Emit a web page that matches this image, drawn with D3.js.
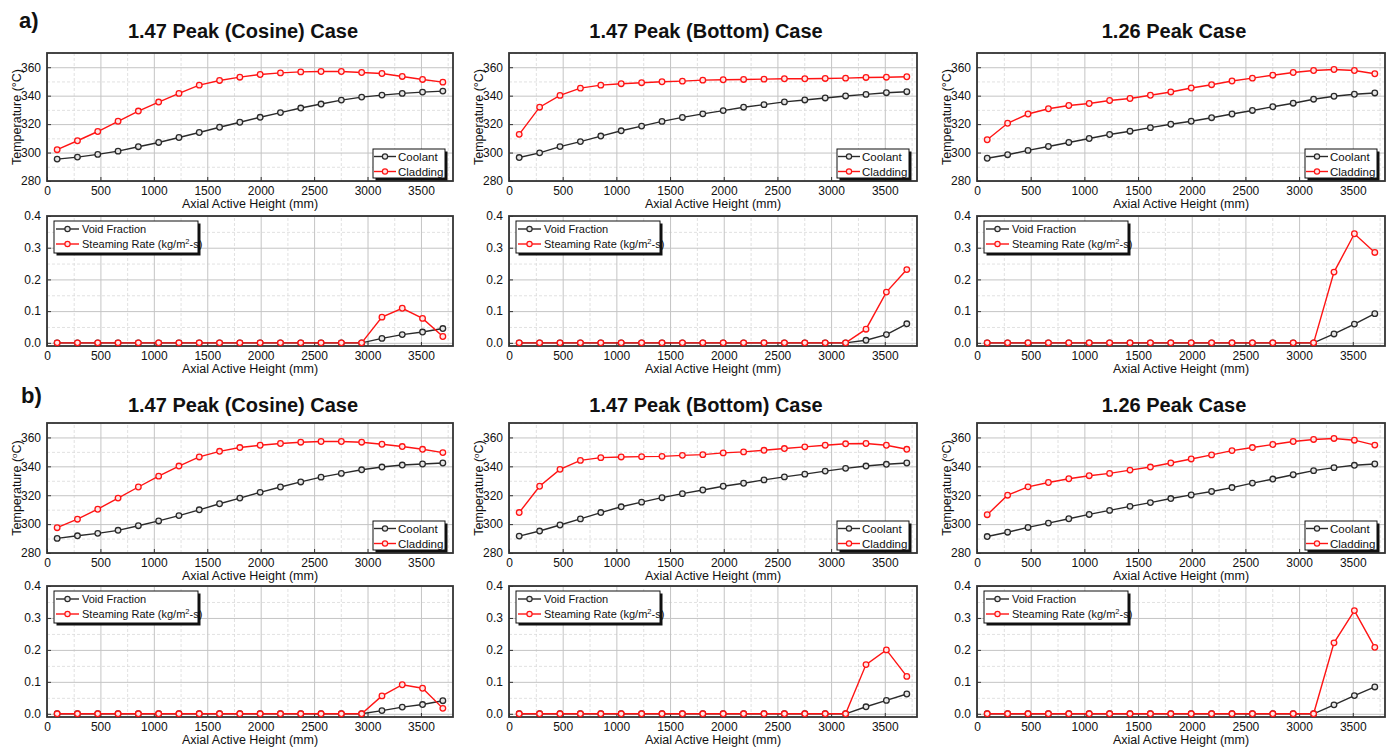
<!DOCTYPE html>
<html><head><meta charset="utf-8">
<script src="https://cdn.jsdelivr.net/npm/d3@7"></script>
<style>body{margin:0;background:#fff}svg{display:block}text{font-family:"Liberation Sans",Arial,Helvetica,sans-serif}</style>
</head><body><svg id="c" width="1396" height="751"></svg>
<script>
// ---------------- DATA ----------------
const heights = [95,285,475,665,855,1045,1235,1425,1615,1805,1995,2185,2375,2565,2755,2945,3135,3325,3515,3705];
const xTicks = [0,500,1000,1500,2000,2500,3000,3500];
const tempTicks = [280,300,320,340,360];
const voidTicks = [0.0,0.1,0.2,0.3,0.4];
const caseTitles = ["1.47 Peak (Cosine) Case","1.47 Peak (Bottom) Case","1.26 Peak Case"];
const rowLabels = ["a)","b)"];

// a) Cosine
const aCosCoolant  = [295.4,296.8,298.7,301.0,304.1,307.1,310.6,314.1,317.8,321.3,324.8,328.1,331.3,334.1,336.9,339.0,340.4,341.6,342.5,343.2];
const aCosCladding = [302.0,308.3,314.8,322.0,329.2,335.5,341.6,347.4,350.7,353.0,354.9,356.0,356.7,357.0,357.0,356.3,355.6,353.5,351.4,349.5];
const aCosVoid     = [0,0,0,0,0,0,0,0,0,0,0,0,0,0,0,0,0.014,0.026,0.034,0.045];
const aCosSteam    = [0,0,0,0,0,0,0,0,0,0,0,0,0,0,0,0,0.081,0.109,0.077,0.020];
// a) Bottom
const aBotCoolant  = [296.5,299.8,304.2,307.7,311.6,315.3,318.6,321.9,324.7,327.2,329.5,331.9,333.7,335.6,337.0,338.4,339.8,340.9,342.1,342.8];
const aBotCladding = [312.8,331.9,340.2,345.3,347.4,348.4,349.1,349.8,350.2,350.9,351.2,351.4,351.6,351.9,351.9,352.1,352.3,352.8,353.0,353.3];
const aBotVoid     = [0,0,0,0,0,0,0,0,0,0,0,0,0,0,0,0,0,0.008,0.026,0.060];
const aBotSteam    = [0,0,0,0,0,0,0,0,0,0,0,0,0,0,0,0,0,0.043,0.160,0.231];
// a) 1.26
const a126Coolant  = [296.0,298.5,301.5,304.3,307.1,309.9,312.7,315.0,317.5,319.9,322.0,324.5,327.1,329.6,332.2,334.7,337.5,339.6,341.0,341.9];
const a126Cladding = [309.0,320.6,327.1,330.8,333.1,334.5,336.6,338.0,340.3,342.6,345.4,347.7,350.3,352.3,354.4,356.3,357.7,358.4,357.7,355.4];
const a126Void     = [0,0,0,0,0,0,0,0,0,0,0,0,0,0,0,0,0,0.028,0.059,0.092];
const a126Steam    = [0,0,0,0,0,0,0,0,0,0,0,0,0,0,0,0,0,0.223,0.344,0.285];
// b) Cosine
const bCosCoolant  = [290.1,291.9,293.6,295.7,298.9,302.2,305.9,309.9,314.1,318.0,322.0,325.7,329.2,332.5,335.1,337.6,339.5,340.9,341.6,342.3];
const bCosCladding = [297.5,303.4,310.3,318.0,325.7,333.2,340.2,346.5,350.4,353.0,354.6,355.8,356.7,357.2,357.2,356.7,355.3,353.7,351.8,349.5];
const bCosVoid     = [0,0,0,0,0,0,0,0,0,0,0,0,0,0,0,0,0.010,0.021,0.029,0.041];
const bCosSteam    = [0,0,0,0,0,0,0,0,0,0,0,0,0,0,0,0,0.056,0.091,0.080,0.017];
// b) Bottom
const bBotCoolant  = [291.7,295.2,299.4,303.6,308.0,312.0,315.2,318.3,321.1,323.6,326.2,328.3,330.6,332.7,334.6,336.7,338.6,340.2,341.4,342.3];
const bBotCladding = [308.0,326.2,337.9,344.1,346.0,346.5,346.7,346.9,347.6,348.1,349.3,350.0,351.1,352.3,353.5,354.6,355.6,355.8,354.6,351.8];
const bBotVoid     = [0,0,0,0,0,0,0,0,0,0,0,0,0,0,0,0,0,0.022,0.042,0.062];
const bBotSteam    = [0,0,0,0,0,0,0,0,0,0,0,0,0,0,0,0,0,0.154,0.200,0.117];
// b) 1.26
const b126Coolant  = [291.4,294.4,297.7,300.7,303.7,306.7,309.5,312.3,314.9,317.7,320.2,322.6,325.3,328.4,331.2,334.2,337.0,339.1,340.7,341.6];
const b126Cladding = [306.5,320.0,325.8,328.8,331.4,333.5,335.1,337.4,339.5,342.3,345.1,347.9,350.9,353.0,355.1,357.2,358.6,359.3,358.1,354.7];
const b126Void     = [0,0,0,0,0,0,0,0,0,0,0,0,0,0,0,0,0,0.028,0.057,0.084];
const b126Steam    = [0,0,0,0,0,0,0,0,0,0,0,0,0,0,0,0,0,0.222,0.323,0.208];

// ---------------- LAYOUT ----------------
const RED = "#ff1414", BLK = "#2a2a2a";
const cols = [{l:47,r:453},{l:509,r:917},{l:977,r:1385}];
const rows = [
  {temp:{t:53,b:181}, vd:{t:216,b:346}, titleY:38, labelY:28, labelX:19},
  {temp:{t:423,b:553}, vd:{t:586,b:717}, titleY:412, labelY:403, labelX:21}
];
const cases = [
  [[aCosCoolant,aCosCladding,aCosVoid,aCosSteam],[aBotCoolant,aBotCladding,aBotVoid,aBotSteam],[a126Coolant,a126Cladding,a126Void,a126Steam]],
  [[bCosCoolant,bCosCladding,bCosVoid,bCosSteam],[bBotCoolant,bBotCladding,bBotVoid,bBotSteam],[b126Coolant,b126Cladding,b126Void,b126Steam]]
];

const svg = d3.select("#c");
const FONT = '"Liberation Sans",Arial,sans-serif';

function range(a,b,s){const o=[];for(let v=a;v<=b+1e-9;v+=s)o.push(+v.toFixed(4));return o;}

function panelFrame(box, x, y, yTickVals, yMinor, yFmt){
  const g = svg.append("g");
  const xMinor = range(250,3750,500);
  // minor grid
  g.append("g").attr("transform",`translate(0,${box.b})`)
    .call(d3.axisBottom(x).tickValues(xMinor).tickSize(-(box.b-box.t)).tickFormat(""))
    .call(s=>{s.select(".domain").remove();s.selectAll("line").attr("stroke","#d9d9d9").attr("stroke-dasharray","3,2").attr("stroke-width",0.8);});
  g.append("g").attr("transform",`translate(${box.l},0)`)
    .call(d3.axisLeft(y).tickValues(yMinor).tickSize(-(box.r-box.l)).tickFormat(""))
    .call(s=>{s.select(".domain").remove();s.selectAll("line").attr("stroke","#d9d9d9").attr("stroke-dasharray","3,2").attr("stroke-width",0.8);});
  // major grid
  g.append("g").attr("transform",`translate(0,${box.b})`)
    .call(d3.axisBottom(x).tickValues(xTicks).tickSize(-(box.b-box.t)).tickFormat(""))
    .call(s=>{s.select(".domain").remove();s.selectAll("line").attr("stroke","#c4c4c4").attr("stroke-width",1);});
  g.append("g").attr("transform",`translate(${box.l},0)`)
    .call(d3.axisLeft(y).tickValues(yTickVals).tickSize(-(box.r-box.l)).tickFormat(""))
    .call(s=>{s.select(".domain").remove();s.selectAll("line").attr("stroke","#c4c4c4").attr("stroke-width",1);});
  // tick labels
  g.append("g").attr("transform",`translate(0,${box.b})`)
    .call(d3.axisBottom(x).tickValues(xTicks).tickSizeInner(-4).tickSizeOuter(0).tickPadding(5.5).tickFormat(d3.format("d")))
    .call(s=>{s.select(".domain").remove();s.selectAll("line").attr("stroke","#333");
      s.selectAll("text").attr("font-size",12).attr("fill","#111").style("font-family",FONT);});
  g.append("g").attr("transform",`translate(${box.l},0)`)
    .call(d3.axisLeft(y).tickValues(yTickVals).tickSizeInner(-4).tickSizeOuter(0).tickPadding(6).tickFormat(yFmt))
    .call(s=>{s.select(".domain").remove();s.selectAll("line").attr("stroke","#333");
      s.selectAll("text").attr("font-size",12).attr("fill","#111").style("font-family",FONT);});
  // frame
  g.append("rect").attr("x",box.l).attr("y",box.t).attr("width",box.r-box.l).attr("height",box.b-box.t)
    .attr("fill","none").attr("stroke","#333").attr("stroke-width",1.8);
  // x axis title
  g.append("text").attr("x",(box.l+box.r)/2).attr("y",box.b+27).attr("text-anchor","middle")
    .attr("font-size",12.5).attr("fill","#111").text("Axial Active Height (mm)");
  return g;
}

function series(g, x, y, vals, color){
  const pts = heights.map((h,i)=>[h,vals[i]]);
  g.append("path").datum(pts).attr("fill","none").attr("stroke",color).attr("stroke-width",1.4)
    .attr("d",d3.line().x(d=>x(d[0])).y(d=>y(d[1])));
  g.selectAll(null).data(pts).join("circle").attr("cx",d=>x(d[0])).attr("cy",d=>y(d[1])).attr("r",2.8)
    .attr("fill", color===RED ? "#ffe6e6" : "#e6e6e6").attr("stroke",color).attr("stroke-width",1.3);
}

function legend(bx, by, w, h, entries, rowY, lineX1, lineX2, textX, fs){
  const g = svg.append("g");
  g.append("rect").attr("x",bx+2.5).attr("y",by+2.5).attr("width",w).attr("height",h).attr("fill","#111");
  g.append("rect").attr("x",bx).attr("y",by).attr("width",w).attr("height",h).attr("fill","#fff").attr("stroke","#111").attr("stroke-width",1);
  entries.forEach((e,i)=>{
    const yy = by+rowY[i];
    g.append("line").attr("x1",bx+lineX1).attr("x2",bx+lineX2).attr("y1",yy).attr("y2",yy).attr("stroke",e.color).attr("stroke-width",1.4);
    g.append("circle").attr("cx",bx+(lineX1+lineX2)/2).attr("cy",yy).attr("r",2.6).attr("fill",e.color===RED?"#ffe6e6":"#e6e6e6").attr("stroke",e.color).attr("stroke-width",1.2);
    const t = g.append("text").attr("x",bx+textX).attr("y",yy).attr("dy","0.36em").attr("font-size",fs).attr("fill","#111");
    e.label(t);
  });
}

rows.forEach((row, ri)=>{
  svg.append("text").attr("x",row.labelX).attr("y",row.labelY).attr("font-size",22).attr("font-weight","bold").attr("fill","#111").text(rowLabels[ri]);
  cols.forEach((col, ci)=>{
    const [cool, clad, vf, st] = cases[ri][ci];
    svg.append("text").attr("x",(col.l+col.r)/2-7).attr("y",row.titleY).attr("text-anchor","middle")
      .attr("font-size",20).attr("font-weight","bold").attr("fill","#111").text(caseTitles[ci]);
    // temperature panel
    const tb = {l:col.l, r:col.r, t:row.temp.t, b:row.temp.b};
    const x = d3.scaleLinear().domain([0,3800]).range([tb.l,tb.r]);
    const yT = d3.scaleLinear().domain([280,370]).range([tb.b,tb.t]);
    const gT = panelFrame(tb, x, yT, tempTicks, range(290,370,20), d3.format("d"));
    const yl = gT.append("text").attr("transform",`translate(${tb.l-31},${(tb.t+tb.b)/2}) rotate(-90)`)
      .attr("text-anchor","middle").attr("dy","0.36em").attr("font-size",12.5).attr("fill","#111");
    if(ri===0){ yl.text("Temperature (°C)"); }
    else { yl.append("tspan").text("Temperature (");
           yl.append("tspan").attr("font-size",8).attr("baseline-shift","super").text("o");
           yl.append("tspan").text("C)"); }
    series(gT, x, yT, cool, BLK);
    series(gT, x, yT, clad, RED);
    legend(tb.r-8-72, tb.b-3-29, 72, 29,
      [{color:BLK,label:t=>t.text("Coolant")},{color:RED,label:t=>t.text("Cladding")}],
      [7.5,22.5], 1, 23, 25, 11.5);
    // void panel
    const vb = {l:col.l, r:col.r, t:row.vd.t, b:row.vd.b};
    const xV = d3.scaleLinear().domain([0,3800]).range([vb.l,vb.r]);
    const yV = d3.scaleLinear().domain([-0.01,0.4]).range([vb.b,vb.t]);
    const gV = panelFrame(vb, xV, yV, voidTicks, range(0.05,0.35,0.1), d3.format(".1f"));
    series(gV, xV, yV, vf, BLK);
    series(gV, xV, yV, st, RED);
    legend(vb.l+7, vb.t+5, 144, 32,
      [{color:BLK,label:t=>t.text("Void Fraction")},
       {color:RED,label:t=>{t.append("tspan").text("Steaming Rate (kg/m");
                            t.append("tspan").attr("font-size",7.5).attr("baseline-shift","super").text("2");
                            t.append("tspan").text("-s)");}}],
      [8,23], 2, 25, 28, 11);
  });
});
</script></body></html>
